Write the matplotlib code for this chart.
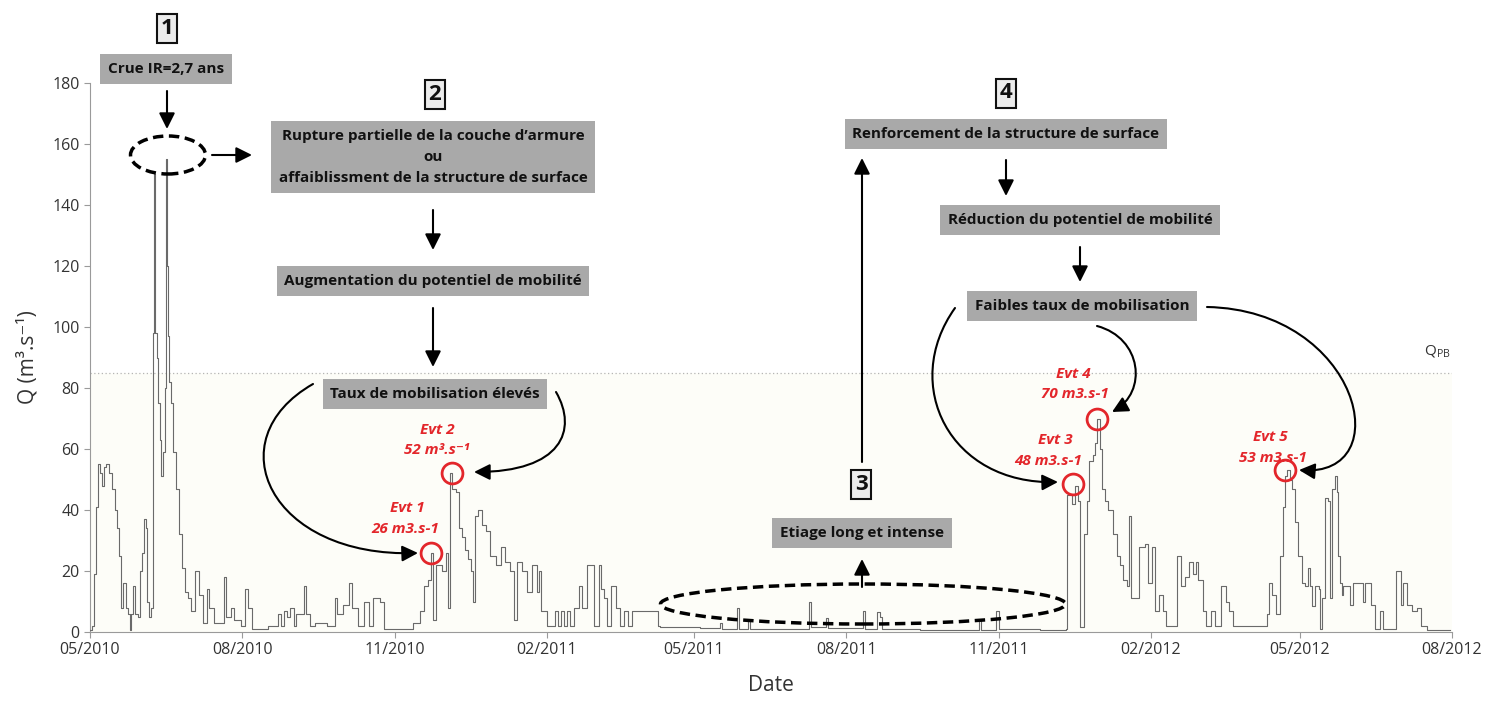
import numpy as np
import matplotlib
matplotlib.use('Agg')
import matplotlib.pyplot as plt
import matplotlib.dates as mdates
from matplotlib.patches import Ellipse, FancyArrowPatch
from matplotlib.path import Path

plt.rcParams['font.family'] = ['Open Sans', 'DejaVu Sans']

# hydrograph: days since 2010-05-01, discharge (m3/s)
start = '2010-05-01'
day = [0, 1.2, 2.4, 3.6, 4.8, 6.0, 7.3, 8.5, 9.7, 11.5, 13.3, 15.1, 16.3, 17.5, 18.7, 19.9,
       21.8, 23.0, 24.2, 24.8, 26.0, 27.2, 29.0, 30.2, 31.4, 32.6, 33.8, 34.4, 35.7, 36.9,
       38.1, 38.7, 39.3, 40.5, 41.1, 42.3, 42.9, 44.1, 45.3, 45.9, 46.5, 47.1, 47.7, 48.9,
       50.2, 52.0, 53.8, 55.6, 57.4, 59.2, 61.0, 63.5, 65.9, 68.3, 70.7, 71.9, 74.9, 81.0,
       82.2, 85.2, 87.0, 91.3, 93.7, 95.5, 97.9, 107.6, 113.6, 115.4, 117.2, 119.0, 120.9,
       123.3, 124.5, 129.3, 130.5, 133.0, 136.0, 143.2, 148.0, 149.3, 152.9, 156.5, 158.3,
       162.0, 165.6, 168.6, 171.0, 175.2, 177.7, 195.2, 199.4, 201.8, 204.3, 206.1, 207.3,
       209.1, 212.7, 215.1, 216.3, 217.5, 218.8, 221.2, 223.0, 224.8, 226.6, 228.4, 230.2,
       231.4, 232.7, 234.5, 236.9, 239.3, 241.7, 245.3, 248.4, 250.8, 253.8, 256.2, 258.0,
       261.1, 264.1, 267.1, 270.1, 271.3, 272.5, 276.2, 281.0, 282.8, 284.6, 286.4, 288.3,
       290.1, 292.5, 295.5, 297.3, 300.3, 304.6, 307.6, 308.8, 310.6, 312.4, 314.8, 317.9,
       320.3, 322.7, 325.1, 327.5, 343.2, 344.5, 368.6, 380.7, 381.9, 391.0, 392.2, 397.6,
       398.8, 417.0, 434.5, 435.7, 444.8, 446.0, 467.1, 468.3, 475.6, 477.4, 478.6, 501.6,
       537.2, 538.4, 547.5, 549.3, 574.1, 589.8, 590.4, 593.4, 595.2, 597.0, 598.3, 600.7,
       602.5, 603.7, 606.1, 607.3, 608.5, 610.3, 611.5, 613.4, 615.2, 618.2, 620.6, 622.4,
       624.2, 626.7, 627.9, 629.1, 633.9, 637.5, 639.3, 641.8, 643.6, 646.0, 648.4, 650.3,
       656.9, 659.3, 661.7, 664.1, 666.5, 668.4, 669.6, 672.6, 674.4, 677.4, 679.8, 683.5,
       686.5, 688.3, 690.7, 711.3, 712.5, 714.3, 716.7, 719.1, 720.9, 722.1, 723.4, 725.2,
       726.4, 728.2, 730.0, 732.4, 734.2, 736.1, 737.3, 738.5, 740.3, 742.7, 743.3, 744.5,
       746.3, 748.2, 749.4, 750.6, 752.4, 753.6, 754.2, 755.4, 756.6, 757.2, 761.5, 763.3,
       769.3, 770.6, 774.2, 776.6, 779.6, 781.4, 789.3, 792.3, 793.5, 795.9, 798.9, 801.9,
       804.4, 808.0, 821.8]
q = [0.5, 2, 19, 41, 55, 52, 48, 54, 55, 52, 47, 40, 34, 25, 8, 16,
     8, 6, 0.5, 6, 15, 6, 5, 20, 26, 37, 34, 10, 5, 8,
     98, 150, 98, 90, 75, 63, 51, 59, 80, 155, 120, 97, 82, 75,
     59, 47, 32, 21, 13, 11, 7, 20, 12, 3, 14, 8, 3, 18,
     5, 8, 4, 2, 14, 8, 1, 2, 6, 2, 7, 5, 8,
     2, 6, 15, 6, 2, 3, 2, 11, 6, 9, 16, 8,
     2, 10, 2, 11, 10, 1, 3, 7, 15, 17, 26, 4,
     22, 20, 26, 8, 52, 47, 46, 34, 31, 27, 24, 20,
     10, 38, 40, 35, 33, 25, 22, 28, 23, 20, 4, 23,
     20, 13, 22, 13, 20, 7, 2, 7, 2, 7, 2, 7,
     2, 8, 15, 8, 22, 2, 22, 14, 11, 2, 15, 8,
     2, 7, 2, 7, 2, 1.5, 1.2, 3, 1.1, 8, 1.1, 4,
     1.0, 0.9, 10, 1.5, 4.5, 1.2, 7, 1.0, 6.5, 5, 0.9, 0.7,
     4, 0.8, 7, 1.0, 0.8, 1.0, 45, 42, 48, 43, 1.5, 32,
     43, 56, 58, 62, 70, 60, 47, 43, 40, 32, 25, 22,
     17, 15, 38, 11, 28, 29, 16, 28, 7, 12, 7, 2,
     25, 15, 18, 23, 19, 23, 17, 7, 2, 7, 2, 15,
     10, 7, 2, 6, 16, 12, 6, 25, 41, 51, 53, 50,
     47, 36, 25, 16, 15, 21, 15, 8.5, 15, 14, 1, 11,
     44, 43, 11, 47, 51, 46, 25, 16, 12, 15, 9, 16,
     10, 16, 9, 1, 7, 1, 20, 9, 16, 9, 7, 8,
     2, 0.8, 0.8]

qpb = 85
tick_dates = ['2010-05-01', '2010-08-01', '2010-11-01', '2011-02-01', '2011-05-01',
              '2011-08-01', '2011-11-01', '2012-02-01', '2012-05-01', '2012-08-01']
tick_labels = ['05/2010', '08/2010', '11/2010', '02/2011', '05/2011',
               '08/2011', '11/2011', '02/2012', '05/2012', '08/2012']

evt_day = [206.1, 218.8, 594.0, 608.5, 722.1]
evt_q = [26, 52, 48.5, 70, 53]

# figure layout in image pixels
W, H = 1498, 704
L, R, B, T = 90, 1452, 632, 83


def px(x, y):
    return ((x - L) / (R - L), (B - y) / (B - T))


fig = plt.figure(figsize=(W / 100, H / 100), dpi=100)
ax = fig.add_axes([L / W, 1 - B / H, (R - L) / W, (B - T) / H])

base = mdates.date2num(np.datetime64(start))
x = base + np.array(day)
ax.step(x, q, where='post', color='#6a6a6a', lw=0.8, zorder=3)

ax.axhspan(0, qpb, color='#fdfdf8', zorder=0, lw=0)
ax.axhline(qpb, color='#b5b5b5', lw=0.9, ls=(0, (1, 2)), zorder=1)
ax.text(*px(1437, 352), r'Q$_\mathregular{PB}$', transform=ax.transAxes,
        ha='center', va='center', fontsize=11, color='#333333')

ax.set_xlim(base, mdates.date2num(np.datetime64(tick_dates[-1])))
ax.set_ylim(0, 180)
ax.set_xticks([mdates.date2num(np.datetime64(d)) for d in tick_dates])
ax.set_xticklabels(tick_labels)
ax.set_yticks(np.arange(0, 181, 20))
for s in ['top', 'right']:
    ax.spines[s].set_visible(False)
for s in ['left', 'bottom']:
    ax.spines[s].set_color('#9a9a9a')
ax.tick_params(axis='both', colors='#9a9a9a', labelcolor='#333333', labelsize=11.5, length=4)
ax.set_xlabel('Date', fontsize=15, color='#333333', labelpad=12)
ax.set_ylabel('Q (m³.s⁻¹)', fontsize=15, color='#333333', labelpad=10)

# event circles and labels
ax.plot(base + np.array(evt_day), evt_q, 'o', ms=15, mfc='none', mec='#e3262b', mew=2, zorder=5)
red = '#e3262b'
evt_txt = [((407, 508), 'Evt 1'), ((405, 529), '26 m3.s-1'),
           ((437, 430), 'Evt 2'), ((437, 450), '52 m³.s⁻¹'),
           ((1055, 440), 'Evt 3'), ((1048, 461), '48 m3.s-1'),
           ((1073, 374), 'Evt 4'), ((1075, 394), '70 m3.s-1'),
           ((1270, 437), 'Evt 5'), ((1273, 458), '53 m3.s-1')]
for (xx, yy), s in evt_txt:
    ax.text(*px(xx, yy), s, transform=ax.transAxes, ha='center', va='center',
            fontsize=11, color=red, fontweight='bold', fontstyle='italic')


def gbox(xx, yy, s, **kw):
    ax.text(*px(xx, yy), s, transform=ax.transAxes, ha='center', va='center',
            fontsize=11, fontweight='bold', color='#111111', zorder=6,
            bbox=dict(boxstyle='square,pad=0.5', fc='#a9a9a9', ec='none'), **kw)


def nbox(xx, yy, s):
    ax.text(*px(xx, yy), s, transform=ax.transAxes, ha='center', va='center',
            fontsize=16, fontweight='bold', color='#111111', zorder=6,
            bbox=dict(boxstyle='square,pad=0.18', fc='#ececec', ec='#111111', lw=1.5))


def arrow(x0, y0, x1, y1):
    ax.annotate('', xy=px(x1, y1), xytext=px(x0, y0), xycoords='axes fraction',
                annotation_clip=False,
                arrowprops=dict(arrowstyle='-|>,head_length=0.6,head_width=0.3',
                                color='black', lw=1.5, mutation_scale=16,
                                shrinkA=0, shrinkB=0))


def curve(pts):
    verts = [px(*p) for p in pts]
    path = Path(verts, [Path.MOVETO, Path.CURVE4, Path.CURVE4, Path.CURVE4])
    ax.add_patch(FancyArrowPatch(path=path, arrowstyle='-|>,head_length=0.6,head_width=0.3',
                                 color='black', lw=1.5, mutation_scale=16,
                                 transform=ax.transAxes, clip_on=False, zorder=6))


def ell(xx, yy, w, h):
    ax.add_patch(Ellipse(px(xx, yy), w / (R - L), h / (B - T), transform=ax.transAxes,
                         fill=False, ec='black', lw=2.5, ls=(0, (3, 1.6)),
                         clip_on=False, zorder=6))


# phase 1
nbox(167, 28, '1')
gbox(166, 69, 'Crue IR=2,7 ans')
arrow(167, 91, 167, 129)
ell(168, 155, 75, 38)
arrow(212, 155, 252, 155)

# phase 2
nbox(435, 94, '2')
gbox(433, 157, 'Rupture partielle de la couche d\u2019armure\nou\naffaiblissment de la structure de surface',
     linespacing=1.65)
arrow(433, 210, 433, 250)
gbox(433, 281, 'Augmentation du potentiel de mobilit\u00e9')
arrow(433, 308, 433, 367)
gbox(435, 394, 'Taux de mobilisation \u00e9lev\u00e9s')
curve([(313, 384), (215, 440), (270, 558), (418, 553)])
curve([(556, 392), (578, 430), (562, 472), (474, 472)])

# phase 3
nbox(861, 484, '3')
gbox(862, 533, 'Etiage long et intense')
arrow(862, 587, 862, 559)
ell(863, 604, 405, 40)
arrow(862, 462, 862, 158)

# phase 4
nbox(1006, 93, '4')
gbox(1006, 134, 'Renforcement de la structure de surface')
arrow(1006, 160, 1006, 196)
gbox(1080, 220, 'R\u00e9duction du potentiel de mobilit\u00e9')
arrow(1080, 247, 1080, 282)
gbox(1082, 306, 'Faibles taux de mobilisation')
curve([(955, 308), (900, 385), (950, 485), (1058, 482)])
curve([(1097, 326), (1142, 338), (1148, 392), (1112, 412)])
curve([(1207, 307), (1360, 310), (1400, 478), (1299, 470)])

fig.savefig('out.png', dpi=100)
